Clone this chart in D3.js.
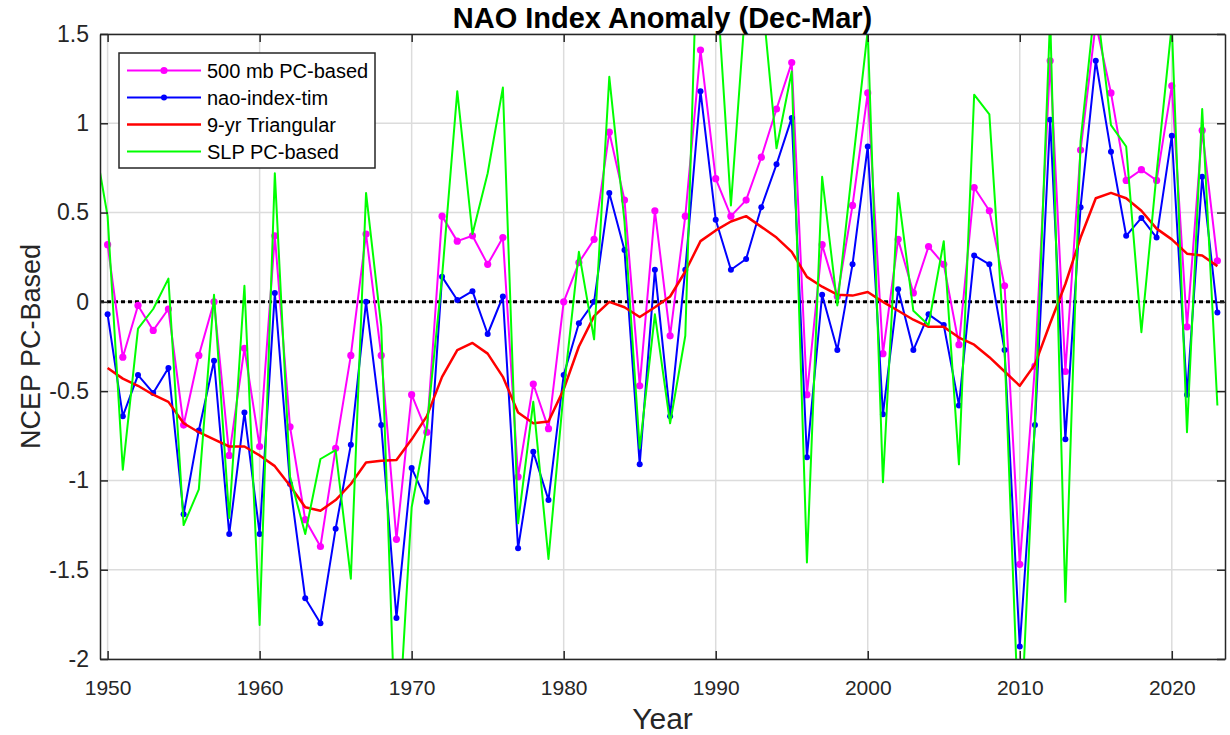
<!DOCTYPE html>
<html lang="en">

<head>
    <meta charset="UTF-8">
    <script src="https://d3js.org/d3.v7.min.js"></script>
    <title>NAO Index Anomaly</title>
    <style>
        body { margin: 0; background: #fff; }
        text { font-family: "Liberation Sans", Arial, sans-serif; fill: #000; }
        .grid-line { stroke: #dcdcdc; stroke-width: 1.5px; }
        .axis path, .axis line { stroke: #262626; stroke-width: 1.5px; }
        .axis text { fill: #262626; font-family: "Liberation Sans", Arial, sans-serif; }
    </style>
</head>

<body>
    <div id="chart"></div>
    <script>
        // Data (winter Dec-Mar NAO index anomalies)
        var years = d3.range(1950, 2024);
        var slpYears = d3.range(1949, 2024);

        var pc500 = [0.32, -0.31, -0.02, -0.16, -0.04, -0.69, -0.30, 0.00, -0.86, -0.26,
            -0.81, 0.37, -0.70, -1.22, -1.37, -0.82, -0.30, 0.38, -0.30, -1.33,
            -0.52, -0.73, 0.48, 0.34, 0.37, 0.21, 0.36, -0.98, -0.46, -0.71,
            0.00, 0.22, 0.35, 0.95, 0.57, -0.47, 0.51, -0.19, 0.48, 1.41,
            0.69, 0.48, 0.57, 0.81, 1.08, 1.34, -0.52, 0.32, 0.03, 0.54,
            1.17, -0.29, 0.35, 0.05, 0.31, 0.21, -0.24, 0.64, 0.51, 0.09,
            -1.47, -0.36, 1.35, -0.39, 0.85, 1.56, 1.17, 0.68, 0.74, 0.68,
            1.21, -0.14, 0.96, 0.23];

        var naoTim = [-0.07, -0.64, -0.41, -0.51, -0.37, -1.19, -0.72, -0.33, -1.30, -0.62,
            -1.30, 0.05, -1.02, -1.66, -1.80, -1.27, -0.80, 0.00, -0.69, -1.77,
            -0.93, -1.12, 0.14, 0.01, 0.06, -0.18, 0.03, -1.38, -0.84, -1.11,
            -0.41, -0.12, 0.00, 0.61, 0.29, -0.91, 0.18, -0.64, 0.18, 1.18,
            0.46, 0.18, 0.24, 0.53, 0.77, 1.03, -0.87, 0.04, -0.27, 0.21,
            0.87, -0.63, 0.07, -0.27, -0.07, -0.13, -0.58, 0.26, 0.21, -0.27,
            -1.93, -0.69, 1.02, -0.77, 0.53, 1.35, 0.84, 0.37, 0.47, 0.36,
            0.93, -0.52, 0.70, -0.06];

        var tri9 = [-0.37, -0.43, -0.47, -0.52, -0.56, -0.68, -0.73, -0.77, -0.81, -0.81,
            -0.86, -0.92, -1.03, -1.15, -1.17, -1.11, -1.02, -0.90, -0.89, -0.885,
            -0.77, -0.64, -0.42, -0.27, -0.23, -0.29, -0.42, -0.62, -0.68, -0.67,
            -0.49, -0.25, -0.08, 0.00, -0.03, -0.085, -0.03, 0.03, 0.17, 0.34,
            0.40, 0.45, 0.48, 0.42, 0.36, 0.28, 0.14, 0.085, 0.04, 0.035,
            0.055, 0.00, -0.05, -0.10, -0.14, -0.14, -0.20, -0.24, -0.31, -0.39,
            -0.47, -0.35, -0.12, 0.10, 0.36, 0.58, 0.61, 0.58, 0.51, 0.41,
            0.35, 0.27, 0.26, 0.20];

        var slpPC = [0.97, 0.48, -0.94, -0.15, -0.04, 0.13, -1.25, -1.05, 0.04, -1.21, 0.09,
            -1.81, 0.72, -0.98, -1.30, -0.88, -0.83, -1.55, 0.61, -0.14, -2.60,
            -1.15, -0.70, 0.14, 1.18, 0.38, 0.72, 1.20, -1.24, -0.56, -1.44,
            -0.50, 0.28, -0.21, 1.26, 0.45, -0.82, -0.07, -0.68, -0.19, 2.60,
            1.88, 0.54, 1.71, 1.76, 0.86, 1.29, -1.46, 0.70, -0.02, 0.76,
            1.52, -1.01, 0.61, -0.05, -0.13, 0.34, -0.91, 1.16, 1.05, -0.27,
            -2.54, -0.65, 1.60, -1.68, 0.90, 1.71, 0.99, 0.87, -0.17, 0.72,
            1.55, -0.73, 1.08, -0.58];

        var xTicks = [1950, 1960, 1970, 1980, 1990, 2000, 2010, 2020];
        var yTicks = [-2, -1.5, -1, -0.5, 0, 0.5, 1, 1.5];

        var legendNames = ["500 mb PC-based", "nao-index-tim", "9-yr Triangular", "SLP PC-based"];
        var colors = ["#ff00ff", "#0000ff", "#ff0000", "#00ff00"];

        var W = 1230, H = 735;
        var mLeft = 100, mRight = 1225, mTop = 34, mBottom = 659;

        var svg = d3.select("#chart")
            .append("svg")
            .attr("width", W)
            .attr("height", H);

        var x = d3.scaleLinear()
            .domain([1949.5, 2023.5])
            .range([mLeft, mRight]);

        var y = d3.scaleLinear()
            .domain([-2, 1.5])
            .range([mBottom, mTop]);

        svg.append("clipPath")
            .attr("id", "plot-clip")
            .append("rect")
            .attr("x", mLeft)
            .attr("y", mTop)
            .attr("width", mRight - mLeft)
            .attr("height", mBottom - mTop);

        // grid
        svg.append("g")
            .selectAll("line")
            .data(xTicks)
            .enter().append("line")
            .attr("class", "grid-line")
            .attr("x1", function (d) { return x(d); })
            .attr("x2", function (d) { return x(d); })
            .attr("y1", mTop)
            .attr("y2", mBottom);

        svg.append("g")
            .selectAll("line")
            .data(yTicks)
            .enter().append("line")
            .attr("class", "grid-line")
            .attr("x1", mLeft)
            .attr("x2", mRight)
            .attr("y1", function (d) { return y(d); })
            .attr("y2", function (d) { return y(d); });

        // zero line
        svg.append("line")
            .attr("x1", mLeft)
            .attr("x2", mRight)
            .attr("y1", y(0))
            .attr("y2", y(0))
            .attr("stroke", "#000")
            .attr("stroke-width", 3)
            .attr("stroke-dasharray", "4,3");

        var plot = svg.append("g").attr("clip-path", "url(#plot-clip)");

        function drawSeries(xs, vals, color, width, r) {
            var pts = xs.map(function (d, i) { return [d, vals[i]]; });
            var line = d3.line()
                .x(function (d) { return x(d[0]); })
                .y(function (d) { return y(d[1]); });
            plot.append("path")
                .datum(pts)
                .attr("fill", "none")
                .attr("stroke", color)
                .attr("stroke-width", width)
                .attr("stroke-linejoin", "round")
                .attr("d", line);
            if (r > 0) {
                plot.append("g")
                    .selectAll("circle")
                    .data(pts)
                    .enter().append("circle")
                    .attr("cx", function (d) { return x(d[0]); })
                    .attr("cy", function (d) { return y(d[1]); })
                    .attr("r", r)
                    .attr("fill", color);
            }
        }

        drawSeries(years, pc500, colors[0], 2, 3.6);
        drawSeries(years, naoTim, colors[1], 2, 3);
        drawSeries(years, tri9, colors[2], 2.5, 0);
        drawSeries(slpYears, slpPC, colors[3], 2, 0);

        // axes with inward ticks on all four sides
        var fmt = function (d) { return String(d); };

        svg.append("g")
            .attr("class", "axis")
            .attr("transform", "translate(0," + mBottom + ")")
            .call(d3.axisBottom(x).tickValues(xTicks).tickSizeInner(-8).tickSizeOuter(0).tickPadding(21).tickFormat(fmt))
            .selectAll("text").style("font-size", "21px");

        svg.append("g")
            .attr("class", "axis")
            .attr("transform", "translate(0," + mTop + ")")
            .call(d3.axisTop(x).tickValues(xTicks).tickSizeInner(-8).tickSizeOuter(0).tickFormat(""));

        svg.append("g")
            .attr("class", "axis")
            .attr("transform", "translate(" + mLeft + ",0)")
            .call(d3.axisLeft(y).tickValues(yTicks).tickSizeInner(-8).tickSizeOuter(0).tickPadding(11).tickFormat(fmt))
            .selectAll("text").style("font-size", "23px");

        svg.append("g")
            .attr("class", "axis")
            .attr("transform", "translate(" + mRight + ",0)")
            .call(d3.axisRight(y).tickValues(yTicks).tickSizeInner(-8).tickSizeOuter(0).tickFormat(""));

        // titles
        svg.append("text")
            .attr("x", (mLeft + mRight) / 2)
            .attr("y", 28)
            .attr("text-anchor", "middle")
            .style("font-size", "29px")
            .style("font-weight", "bold")
            .text("NAO Index Anomaly (Dec-Mar)");

        svg.append("text")
            .attr("x", (mLeft + mRight) / 2)
            .attr("y", 729)
            .attr("text-anchor", "middle")
            .style("font-size", "30px")
            .style("fill", "#262626")
            .text("Year");

        svg.append("text")
            .attr("transform", "translate(40," + ((mTop + mBottom) / 2) + ") rotate(-90)")
            .attr("text-anchor", "middle")
            .style("font-size", "27px")
            .style("fill", "#262626")
            .text("NCEP PC-Based");

        // legend
        var lg = svg.append("g").attr("transform", "translate(119,53)");
        lg.append("rect")
            .attr("width", 256)
            .attr("height", 115)
            .attr("fill", "#fff")
            .attr("stroke", "#262626")
            .attr("stroke-width", 1.5);

        legendNames.forEach(function (name, i) {
            var ly = 17.5 + i * 27;
            lg.append("line")
                .attr("x1", 8).attr("x2", 82)
                .attr("y1", ly).attr("y2", ly)
                .attr("stroke", colors[i])
                .attr("stroke-width", i === 2 ? 2.5 : 2);
            if (i < 2) {
                lg.append("circle")
                    .attr("cx", 45).attr("cy", ly)
                    .attr("r", i === 0 ? 3.6 : 3)
                    .attr("fill", colors[i]);
            }
            lg.append("text")
                .attr("x", 88)
                .attr("y", ly + 7)
                .style("font-size", "20px")
                .text(name);
        });
    </script>
</body>

</html>
